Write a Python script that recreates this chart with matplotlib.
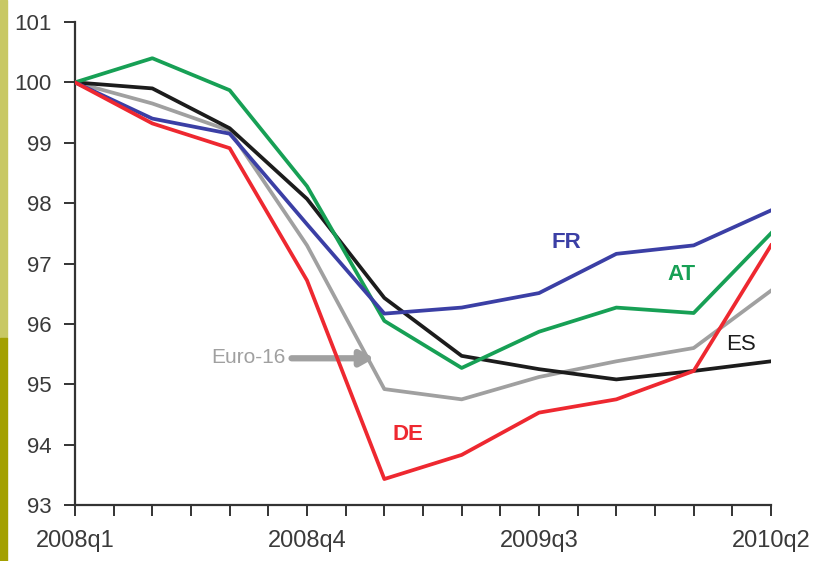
import matplotlib
matplotlib.use("Agg")
import matplotlib.pyplot as plt
import numpy as np
from matplotlib.patches import Rectangle

quarters = ['2008q1', '2008q2', '2008q3', '2008q4', '2009q1', '2009q2',
            '2009q3', '2009q4', '2010q1', '2010q2']
shown_labels = ['2008q1', '2008q4', '2009q3', '2010q2']

euro16 = [100, 99.65, 99.2, 97.3, 94.92, 94.75, 95.12, 95.38, 95.6, 96.55]
es = [100, 99.9, 99.24, 98.07, 96.43, 95.47, 95.25, 95.08, 95.22, 95.38]
at = [100, 100.40, 99.87, 98.28, 96.05, 95.27, 95.87, 96.27, 96.18, 97.5]
fr = [100, 99.4, 99.15, 97.65, 96.17, 96.27, 96.51, 97.16, 97.3, 97.88]
de = [100, 99.32, 98.91, 96.72, 93.43, 93.83, 94.53, 94.75, 95.22, 97.3]

plt.rcParams['font.family'] = ['Liberation Sans', 'DejaVu Sans']

fig = plt.figure(figsize=(8.16, 5.61), dpi=100)
fig.patch.set_facecolor('white')
# slide strip on the left
fig.patches.append(Rectangle((0, 0.397), 7 / 816, 0.603, transform=fig.transFigure,
                             color='#c8c864', zorder=0))
fig.patches.append(Rectangle((0, 0), 7 / 816, 0.397, transform=fig.transFigure,
                             color='#a3a000', zorder=0))

ax = fig.add_axes([75 / 816, 56 / 561, 696 / 816, 483 / 561])
x = np.arange(len(quarters))

lw = 2.7
ax.plot(x, euro16, color='#a0a0a0', lw=lw, zorder=2)
ax.plot(x, es, color='#1c1c1c', lw=lw, zorder=3)
ax.plot(x, at, color='#17a055', lw=lw, zorder=4)
ax.plot(x, fr, color='#3b3fa5', lw=lw, zorder=5)
ax.plot(x, de, color='#ee2830', lw=lw, zorder=6)

ax.set_xlim(0, 9)
ax.set_ylim(93, 101)

ax.set_xticks([quarters.index(q) for q in shown_labels])
ax.set_xticklabels(shown_labels)
ax.set_xticks(np.arange(0, 9.01, 0.5), minor=True)
ax.set_yticks(np.arange(93, 101.1, 1))
ax.set_yticklabels([str(v) for v in range(93, 102)])

ax.tick_params(axis='both', which='both', direction='out', length=8, width=1.4,
               color='#333333', labelcolor='#3a3a3a')
ax.tick_params(axis='x', which='major', labelsize=17, pad=10)
ax.tick_params(axis='y', which='major', labelsize=16, pad=9)

for s in ['top', 'right']:
    ax.spines[s].set_visible(False)
for s in ['left', 'bottom']:
    ax.spines[s].set_color('#333333')
    ax.spines[s].set_linewidth(1.6)

ax.text(6.36, 97.35, 'FR', color='#3b3fa5', fontsize=16, fontweight='bold',
        ha='center', va='center')
ax.text(7.84, 96.82, 'AT', color='#17a055', fontsize=16, fontweight='bold',
        ha='center', va='center')
ax.text(8.61, 95.66, 'ES', color='#1c1c1c', fontsize=16,
        ha='center', va='center')
ax.text(4.31, 94.16, 'DE', color='#ee2830', fontsize=16, fontweight='bold',
        ha='center', va='center')
ax.text(2.73, 95.45, 'Euro-16', color='#a0a0a0', fontsize=15,
        ha='right', va='center')
ax.annotate('', xy=(3.87, 95.43), xytext=(2.8, 95.43),
            arrowprops=dict(arrowstyle='-|>,head_length=0.8,head_width=0.45',
                            color='#a0a0a0', lw=4.5, shrinkA=0, shrinkB=0))

fig.savefig('out.png', dpi=100)
